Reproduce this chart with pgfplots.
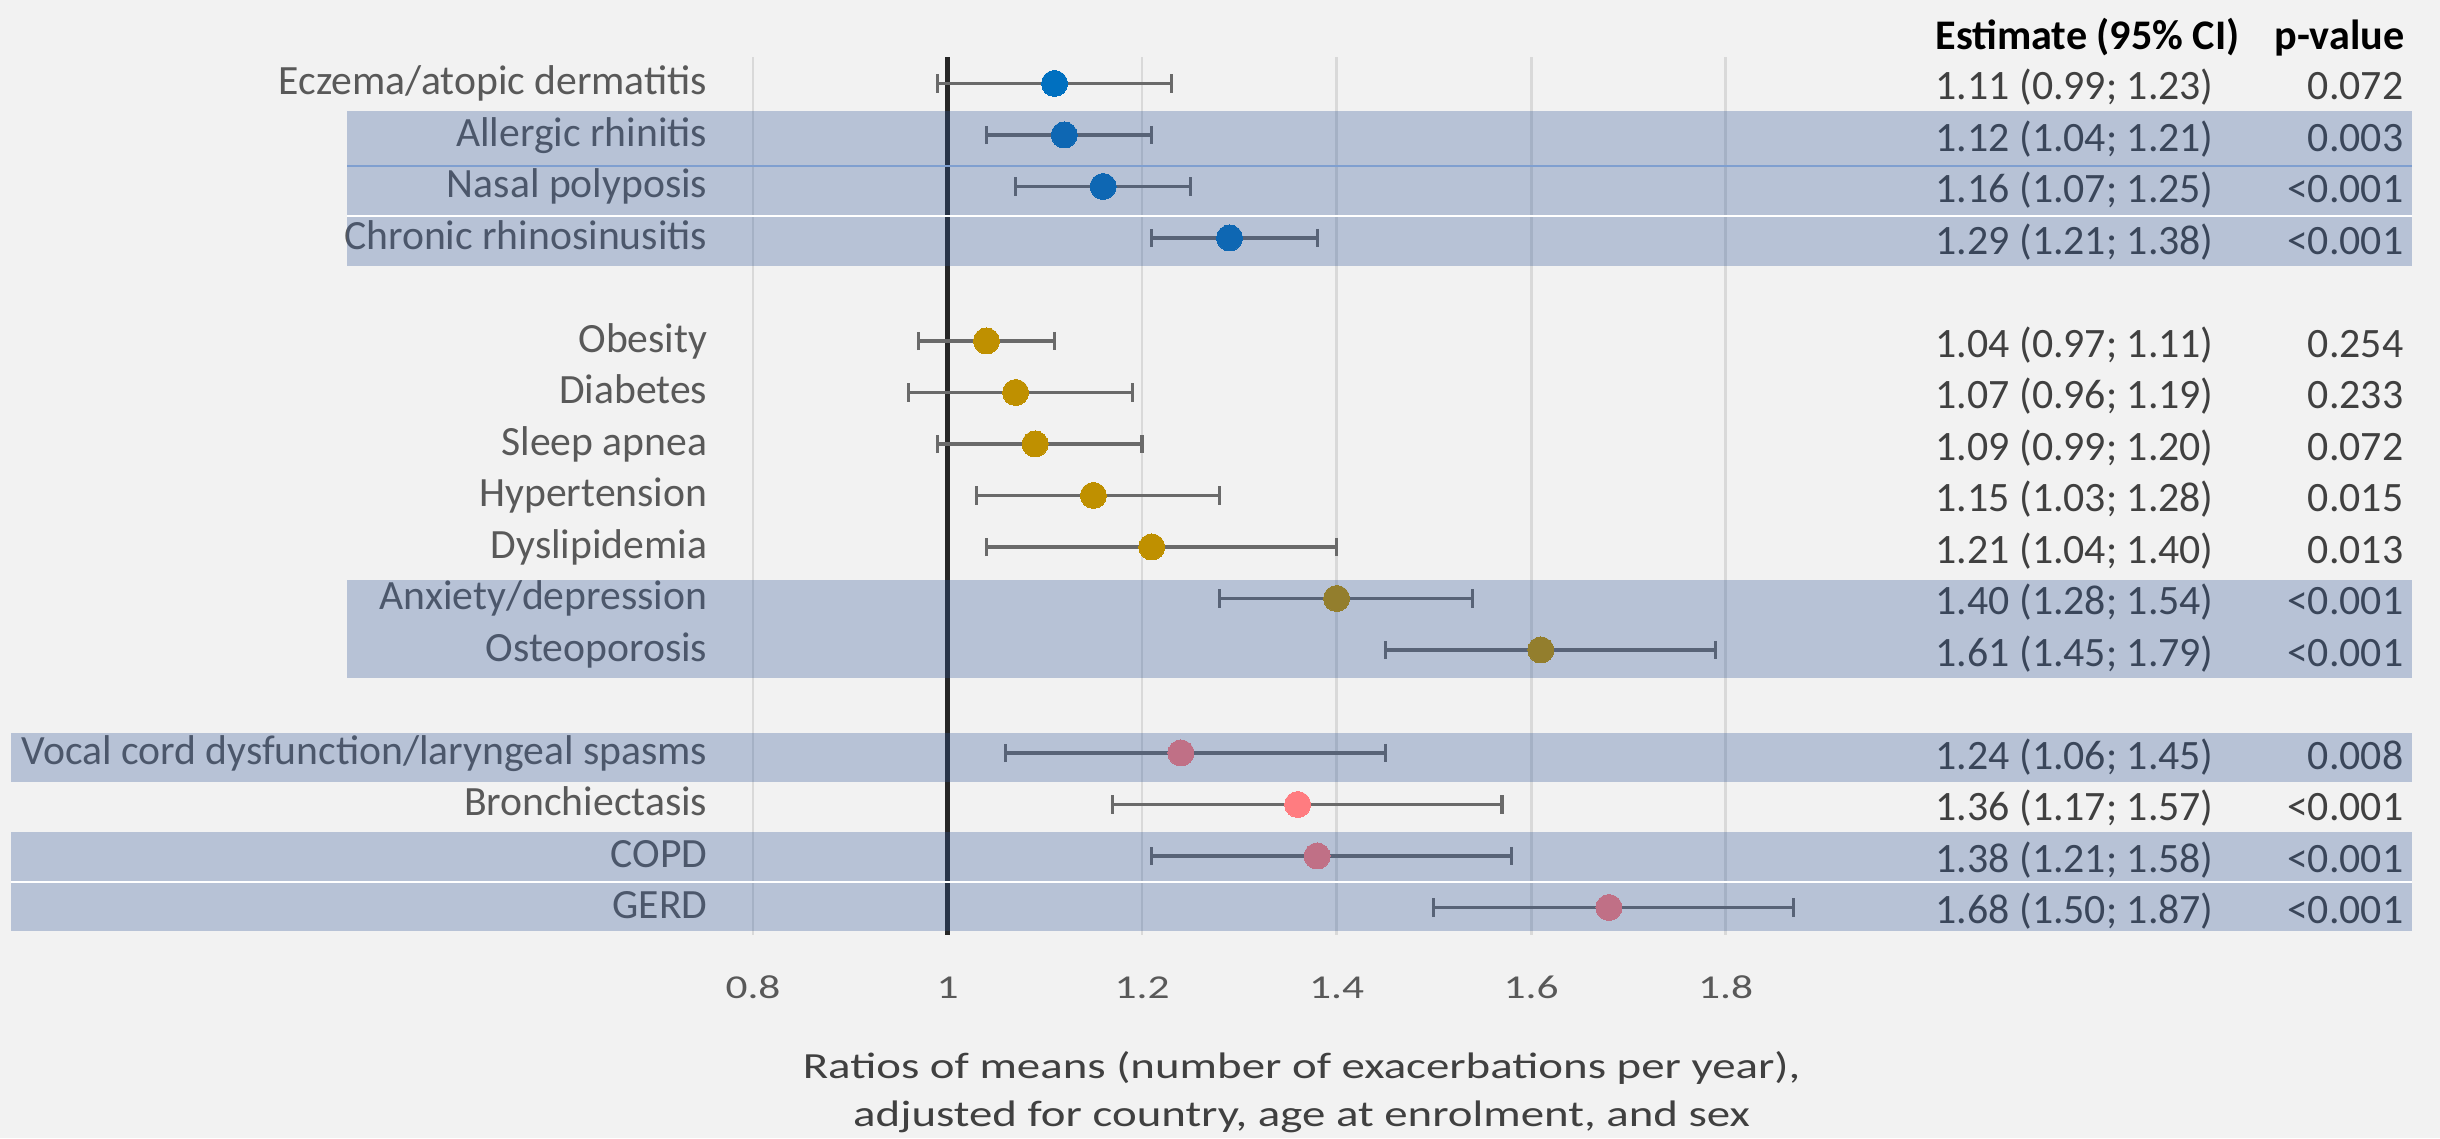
\documentclass[border=0pt]{standalone}
\usepackage{pgfplots}
\usepackage{pgfplotstable}
\usepackage{graphicx}
\usepackage{fontspec}
\setmainfont{Carlito}
\pgfplotsset{compat=1.18}
\definecolor{bgc}{HTML}{F2F2F2}
\definecolor{bandc}{HTML}{2F5597}
\definecolor{cblue}{HTML}{0070C0}
\definecolor{cgold}{HTML}{BF9000}
\definecolor{cpink}{HTML}{FF7C80}
\definecolor{lblc}{HTML}{595959}
\definecolor{tabc}{HTML}{404040}
\definecolor{gridc}{HTML}{D9D9D9}
\definecolor{errc}{HTML}{6A6A6A}
\definecolor{refc}{HTML}{262626}
\definecolor{sepc}{HTML}{7F9FD0}

\pgfplotstableread{
row est lo hi
0 1.11 0.99 1.23
1 1.12 1.04 1.21
2 1.16 1.07 1.25
3 1.29 1.21 1.38
}\groupA
\pgfplotstableread{
row est lo hi
5 1.04 0.97 1.11
6 1.07 0.96 1.19
7 1.09 0.99 1.20
8 1.15 1.03 1.28
9 1.21 1.04 1.40
10 1.40 1.28 1.54
11 1.61 1.45 1.79
}\groupB
\pgfplotstableread{
row est lo hi
13 1.24 1.06 1.45
14 1.36 1.17 1.57
15 1.38 1.21 1.58
16 1.68 1.50 1.87
}\groupC

\pgfplotsset{
  fp/.style={only marks, mark=*, mark size=3.7pt, color=#1,
    mark options={draw=#1, fill=#1, line width=0pt},
    error bars/.cd, x dir=both, x explicit,
    error mark=|,
    error bar style={errc, line width=1.1pt},
    error mark options={errc, line width=0.9pt, mark size=2.6pt}},
}
\tikzset{
  lbl/.style={anchor=base east, inner sep=0pt, text=lblc, font=\fontsize{11.85pt}{14pt}\selectfont},
  est/.style={anchor=base west, inner sep=0pt, text=tabc, font=\fontsize{11.9pt}{14pt}\selectfont},
  pv/.style={anchor=base east, inner sep=0pt, text=tabc, font=\fontsize{11.9pt}{14pt}\selectfont},
}

\begin{document}
\begin{tikzpicture}
\begin{axis}[
  set layers,
  x=9.726cm, y=0.515cm,
  xmin=0.8, xmax=2.5345, ymin=-16.53, ymax=0.51,
  clip=false,
  axis line style={draw=none},
  major tick style={draw=none},
  ytick=\empty,
  xtick={0.8,1.2,1.4,1.6,1.8},
  extra x ticks={1},
  extra x tick style={grid=major, grid style={refc, line width=1.5pt}},
  xmajorgrids,
  grid style={gridc, line width=0.8pt},
  /pgf/number format/assume math mode=true,
  xticklabel style={font=\fontsize{9.5pt}{11pt}\selectfont, text=lblc, anchor=base, yshift=-0.633cm, inner sep=0pt},
  xticklabel={\scalebox{1.3}[1]{\pgfmathprintnumber{\tick}}},
]
\begin{pgfonlayer}{axis background}
\fill[bgc] (axis cs:0.0258,-20.476) rectangle (axis cs:2.5345,1.621);
\end{pgfonlayer}
\coordinate (BL) at (axis cs:0.0258,-20.476);
\coordinate (TR) at (axis cs:2.5345,1.621);

\addplot[fp=cblue] table[x=est, y expr=-\thisrow{row}, x error plus expr=\thisrow{hi}-\thisrow{est}, x error minus expr=\thisrow{est}-\thisrow{lo}] {\groupA};
\addplot[fp=cgold] table[x=est, y expr=-\thisrow{row}, x error plus expr=\thisrow{hi}-\thisrow{est}, x error minus expr=\thisrow{est}-\thisrow{lo}] {\groupB};
\addplot[fp=cpink] table[x=est, y expr=-\thisrow{row}, x error plus expr=\thisrow{hi}-\thisrow{est}, x error minus expr=\thisrow{est}-\thisrow{lo}] {\groupC};

% row labels
\node[lbl] at (axis cs:0.7537,-0.22) {Eczema/atopic dermatitis};
\node[lbl] at (axis cs:0.7537,-1.22) {Allergic rhinitis};
\node[lbl] at (axis cs:0.7537,-2.22) {Nasal polyposis};
\node[lbl] at (axis cs:0.7537,-3.22) {Chronic rhinosinusitis};
\node[lbl] at (axis cs:0.7537,-5.22) {Obesity};
\node[lbl] at (axis cs:0.7537,-6.22) {Diabetes};
\node[lbl] at (axis cs:0.7537,-7.22) {Sleep apnea};
\node[lbl] at (axis cs:0.7537,-8.22) {Hypertension};
\node[lbl] at (axis cs:0.7537,-9.22) {Dyslipidemia};
\node[lbl] at (axis cs:0.7537,-10.22) {Anxiety/depression};
\node[lbl] at (axis cs:0.7537,-11.22) {Osteoporosis};
\node[lbl] at (axis cs:0.7537,-13.22) {Vocal cord dysfunction/laryngeal spasms};
\node[lbl] at (axis cs:0.7537,-14.22) {Bronchiectasis};
\node[lbl] at (axis cs:0.7537,-15.22) {COPD};
\node[lbl] at (axis cs:0.7537,-16.22) {GERD};

% table header
\node[anchor=base west, inner sep=0pt, font=\fontsize{12pt}{14pt}\selectfont\bfseries] at (axis cs:2.0151,0.65) {Estimate (95\% CI)};
\node[anchor=base east, inner sep=0pt, font=\fontsize{12pt}{14pt}\selectfont\bfseries] at (axis cs:2.4985,0.65) {p-value};

% estimates
\node[est] at (axis cs:2.0153,-0.32) {1.11 (0.99; 1.23)};
\node[est] at (axis cs:2.0153,-1.32) {1.12 (1.04; 1.21)};
\node[est] at (axis cs:2.0153,-2.32) {1.16 (1.07; 1.25)};
\node[est] at (axis cs:2.0153,-3.32) {1.29 (1.21; 1.38)};
\node[est] at (axis cs:2.0153,-5.32) {1.04 (0.97; 1.11)};
\node[est] at (axis cs:2.0153,-6.32) {1.07 (0.96; 1.19)};
\node[est] at (axis cs:2.0153,-7.32) {1.09 (0.99; 1.20)};
\node[est] at (axis cs:2.0153,-8.32) {1.15 (1.03; 1.28)};
\node[est] at (axis cs:2.0153,-9.32) {1.21 (1.04; 1.40)};
\node[est] at (axis cs:2.0153,-10.32) {1.40 (1.28; 1.54)};
\node[est] at (axis cs:2.0153,-11.32) {1.61 (1.45; 1.79)};
\node[est] at (axis cs:2.0153,-13.32) {1.24 (1.06; 1.45)};
\node[est] at (axis cs:2.0153,-14.32) {1.36 (1.17; 1.57)};
\node[est] at (axis cs:2.0153,-15.32) {1.38 (1.21; 1.58)};
\node[est] at (axis cs:2.0153,-16.32) {1.68 (1.50; 1.87)};

% p-values
\node[pv] at (axis cs:2.4975,-0.32) {0.072};
\node[pv] at (axis cs:2.4975,-1.32) {0.003};
\node[pv] at (axis cs:2.4975,-2.32) {<0.001};
\node[pv] at (axis cs:2.4975,-3.32) {<0.001};
\node[pv] at (axis cs:2.4975,-5.32) {0.254};
\node[pv] at (axis cs:2.4975,-6.32) {0.233};
\node[pv] at (axis cs:2.4975,-7.32) {0.072};
\node[pv] at (axis cs:2.4975,-8.32) {0.015};
\node[pv] at (axis cs:2.4975,-9.32) {0.013};
\node[pv] at (axis cs:2.4975,-10.32) {<0.001};
\node[pv] at (axis cs:2.4975,-11.32) {<0.001};
\node[pv] at (axis cs:2.4975,-13.32) {0.008};
\node[pv] at (axis cs:2.4975,-14.32) {<0.001};
\node[pv] at (axis cs:2.4975,-15.32) {<0.001};
\node[pv] at (axis cs:2.4975,-16.32) {<0.001};

% axis title
\node[anchor=base, inner sep=0pt, text=tabc, font=\fontsize{10.5pt}{12pt}\selectfont] at (axis cs:1.364,-19.32) {\scalebox{1.27}[1]{Ratios of means (number of exacerbations per year),}};
\node[anchor=base, inner sep=0pt, text=tabc, font=\fontsize{10.5pt}{12pt}\selectfont] at (axis cs:1.364,-20.26) {\scalebox{1.27}[1]{adjusted for country, age at enrolment, and sex}};

\begin{pgfonlayer}{axis foreground}
\fill[bandc, opacity=0.3] (axis cs:0.3826,-0.53) rectangle (axis cs:2.5059,-3.54);
\fill[bandc, opacity=0.3] (axis cs:0.3826,-9.64) rectangle (axis cs:2.5059,-11.54);
\fill[bandc, opacity=0.3] (axis cs:0.0376,-12.62) rectangle (axis cs:2.5059,-13.56);
\fill[bandc, opacity=0.3] (axis cs:0.0376,-14.54) rectangle (axis cs:2.5059,-16.45);
\draw[white, line width=0.6pt] (axis cs:0.3826,-2.57) -- (axis cs:2.5059,-2.57);
\draw[white, line width=0.6pt] (axis cs:0.0376,-15.5) -- (axis cs:2.5059,-15.5);
\draw[sepc, line width=0.4pt] (axis cs:0.3826,-1.6) -- (axis cs:2.5059,-1.6);
\end{pgfonlayer}
\end{axis}
\pgfresetboundingbox
\path[use as bounding box] (BL) rectangle (TR);
\end{tikzpicture}
\end{document}
